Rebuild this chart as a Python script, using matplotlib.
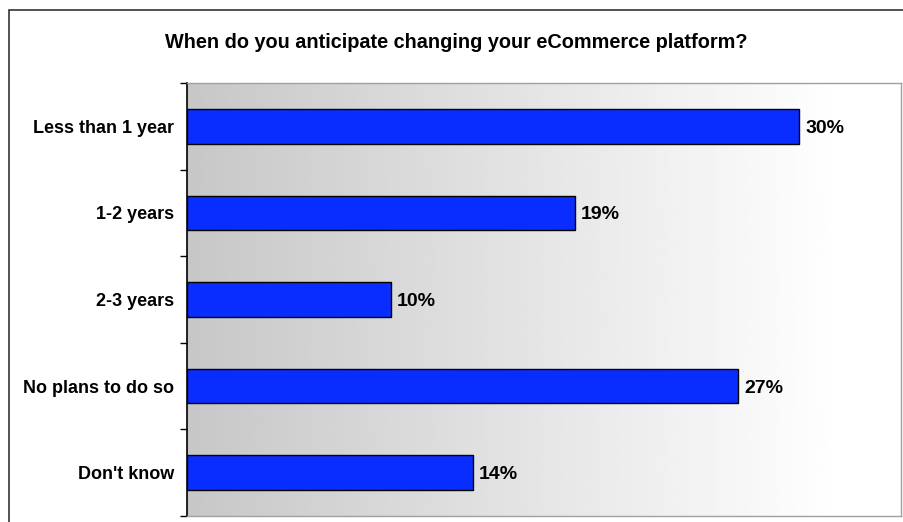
import numpy as np
import matplotlib.pyplot as plt
from matplotlib.patches import Rectangle

plt.rcParams['font.family'] = ['Liberation Sans', 'DejaVu Sans']

categories = ["Less than 1 year", "1-2 years", "2-3 years", "No plans to do so", "Don't know"]
values = [30, 19, 10, 27, 14]
title = "When do you anticipate changing your eCommerce platform?"

fig = plt.figure(figsize=(9.04, 5.22), dpi=100)
fig.patch.set_facecolor("white")

# outer frame around the whole chart
fig.patches.append(Rectangle((9 / 904, -0.05), 1.2, 1 - 10 / 522 + 0.05,
                             transform=fig.transFigure, fill=False,
                             edgecolor="#333333", linewidth=1.2, zorder=0))

ax = fig.add_axes([187 / 904, 6 / 522, 714 / 904, 433 / 522])

# grey-to-white gradient behind the bars
grad = np.clip(np.linspace(0.78, 1.02, 256), 0, 1)
img = np.tile(grad, (2, 1))
ax.imshow(img, cmap="gray", vmin=0, vmax=1, aspect="auto",
          extent=[0, 1, 0, 1], transform=ax.transAxes, zorder=0)

y = np.arange(len(categories))
bars = ax.barh(y, values, height=0.4, color="#0a2dff", edgecolor="black",
               linewidth=1.0, zorder=2)
for yi, v in zip(y, values):
    ax.text(v + 0.3, yi, f"{v}%", va="center_baseline", ha="left",
            fontsize=14, fontweight="bold", zorder=3)

ax.set_xlim(0, 35)
ax.set_ylim(len(categories) - 0.5, -0.5)
ax.set_xticks([])
ax.set_yticks(y)
ax.set_yticklabels(categories, fontsize=13, fontweight="bold")
ax.tick_params(axis="y", which="major", length=0, pad=9)
ax.set_yticks(np.arange(len(categories) + 1) - 0.5, minor=True)
ax.tick_params(axis="y", which="minor", length=5, width=1, direction="out")

ax.spines["left"].set_color("black")
ax.spines["left"].set_linewidth(1.2)
for s in ("top", "right", "bottom"):
    ax.spines[s].set_color("#a0a0a0")
    ax.spines[s].set_linewidth(1.0)

fig.text(0.5 + 9 / 904 / 2, 1 - 42 / 522, title, ha="center", va="center",
         fontsize=14.3, fontweight="bold")

fig.savefig("out.png", dpi=100)
